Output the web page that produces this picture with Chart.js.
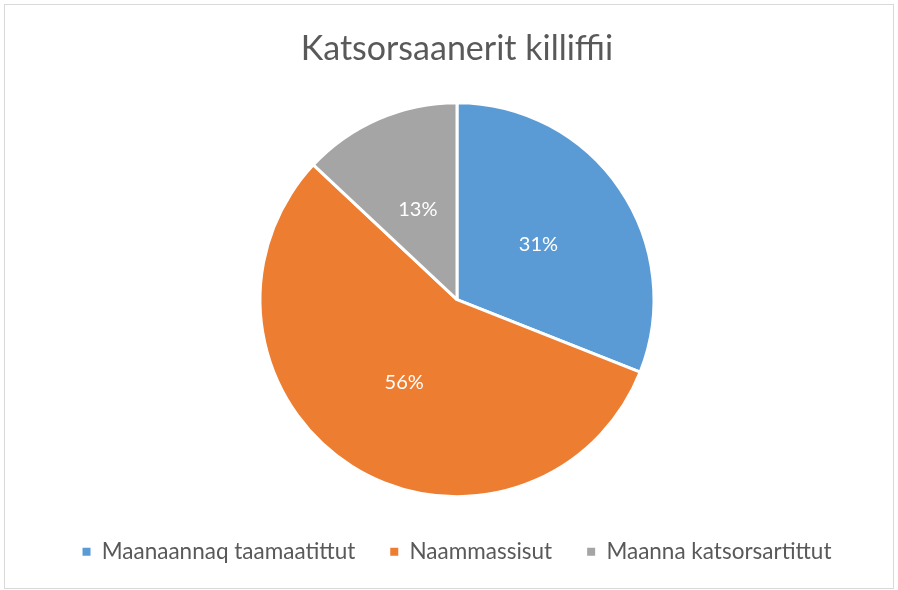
<!DOCTYPE html>
<html>
<head>
<meta charset="utf-8">
<script src="https://cdn.jsdelivr.net/npm/chart.js@4"></script>
<style>
  html, body { margin: 0; padding: 0; background: #fff; }
  #wrap { position: relative; width: 898px; height: 590px; }
</style>
</head>
<body>
<div id="wrap"><canvas id="chart" width="898" height="590"></canvas></div>
<script>
const categories = ['Maanaannaq taamaatittut', 'Naammassisut', 'Maanna katsorsartittut'];
const shares = [31, 56, 13];
const sliceColors = ['#5B9BD5', '#ED7D31', '#A5A5A5'];
const chartTitle = 'Katsorsaanerit killiffii';

const textColor = '#595959';
const fontFamily = 'Lato, "Open Sans", sans-serif';

// white background + thin frame like the office chart area
const framePlugin = {
    id: 'frame',
    beforeDraw(chart) {
        const ctx = chart.ctx;
        ctx.save();
        ctx.fillStyle = '#ffffff';
        ctx.fillRect(0, 0, chart.width, chart.height);
        ctx.strokeStyle = '#d9d9d9';
        ctx.lineWidth = 1;
        ctx.strokeRect(4.5, 4.5, 889, 584);
        ctx.restore();
    }
};

// percentage labels inside the slices
const sliceLabels = {
    id: 'sliceLabels',
    afterDatasetsDraw(chart) {
        const ctx = chart.ctx;
        const meta = chart.getDatasetMeta(0);
        ctx.save();
        ctx.fillStyle = '#ffffff';
        ctx.font = '20px ' + fontFamily;
        ctx.textAlign = 'center';
        ctx.textBaseline = 'middle';
        meta.data.forEach((arc, i) => {
            const pos = arc.tooltipPosition();
            ctx.fillText(shares[i] + '%', pos.x, pos.y);
        });
        ctx.restore();
    }
};

new Chart(document.getElementById('chart'), {
    type: 'pie',
    data: {
        labels: categories,
        datasets: [{
            data: shares,
            backgroundColor: sliceColors,
            borderColor: '#ffffff',
            borderWidth: 3,
            radius: 197
        }]
    },
    options: {
        responsive: false,
        animation: false,
        layout: {
            padding: { left: 16, right: 0, top: 0, bottom: 17 }
        },
        plugins: {
            title: {
                display: true,
                text: chartTitle,
                color: textColor,
                font: { family: fontFamily, size: 34, weight: 'normal' },
                padding: { top: 29, bottom: 24 }
            },
            legend: {
                position: 'bottom',
                labels: {
                    color: textColor,
                    font: { family: fontFamily, size: 22.5 },
                    boxWidth: 8,
                    boxHeight: 8,
                    padding: 35,
                    generateLabels: () => categories.map((c, i) => ({
                        text: c,
                        fillStyle: sliceColors[i],
                        strokeStyle: sliceColors[i],
                        lineWidth: 0,
                        fontColor: textColor,
                        index: i
                    }))
                }
            },
            tooltip: { enabled: false }
        }
    },
    plugins: [framePlugin, sliceLabels]
});
</script>
</body>
</html>
